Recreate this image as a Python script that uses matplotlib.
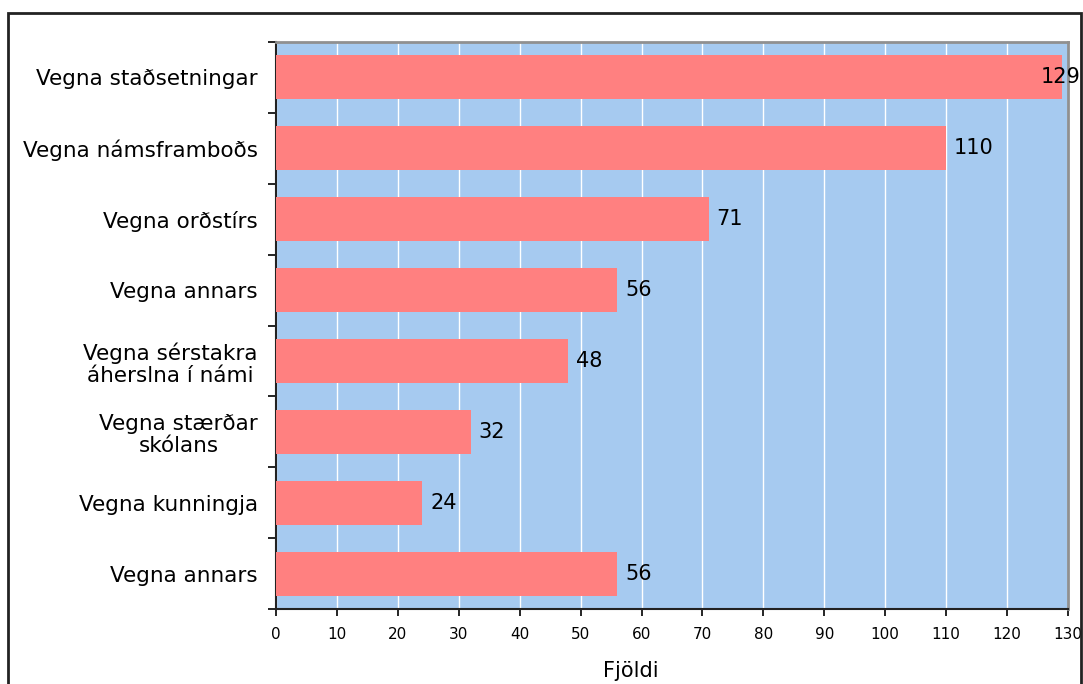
import matplotlib.pyplot as plt
from matplotlib.patches import Rectangle

categories = ['Vegna staðsetningar', 'Vegna námsframboðs', 'Vegna orðstírs', 'Vegna annars',
              'Vegna sérstakra\náherslna í námi', 'Vegna stærðar\nskólans', 'Vegna kunningja',
              'Vegna annars']
values = [129, 110, 71, 56, 48, 32, 24, 56]
xticks = list(range(0, 131, 10))

fig = plt.figure(figsize=(10.83, 6.84), dpi=100, facecolor='white')
ax = fig.add_axes([276/1083, 1-609/684, (1068-276)/1083, (609-42)/684])
ax.set_facecolor('#A6CAF0')

pos = list(range(len(categories)))
ax.barh(pos, values, height=0.62, color='#FF8080', zorder=3)
ax.set_ylim(len(categories)-0.5, -0.5)
ax.set_xlim(0, 130)

# white vertical grid
ax.set_xticks(xticks)
ax.xaxis.grid(True, color='white', linewidth=1, zorder=1)
ax.set_axisbelow(True)
ax.tick_params(axis='x', direction='out', length=5, width=1.2, labelsize=11, pad=8)

ax.set_yticks(pos)
ax.set_yticklabels(categories, fontsize=15.5)
for t in ax.get_yticklabels():
    t.set_multialignment('center')
    t.set_linespacing(1.15)
ax.set_yticks([p - 0.5 for p in pos] + [len(pos) - 0.5], minor=True)
ax.tick_params(axis='y', which='major', length=0, pad=13)
ax.tick_params(axis='y', which='minor', direction='out', length=6, width=1.2)

for s in ['left', 'bottom']:
    ax.spines[s].set_color('#222222')
    ax.spines[s].set_linewidth(1.5)
for s in ['top', 'right']:
    ax.spines[s].set_color('#909090')
    ax.spines[s].set_linewidth(2)

for p, v in zip(pos, values):
    ax.text(min(v + 1.3, 125.5), p, str(v), va='center', ha='left', fontsize=15, zorder=4)

fig.text(631/1083, 1-671/684, 'Fjöldi', ha='center', va='center', fontsize=15)

# outer frame
fig.patches.append(Rectangle((8/1083, -0.05), (1081-8)/1083, 1.05-13/684,
                             transform=fig.transFigure, fill=False,
                             edgecolor='#222222', linewidth=2))

fig.savefig('out.png', dpi=100, facecolor='white')
